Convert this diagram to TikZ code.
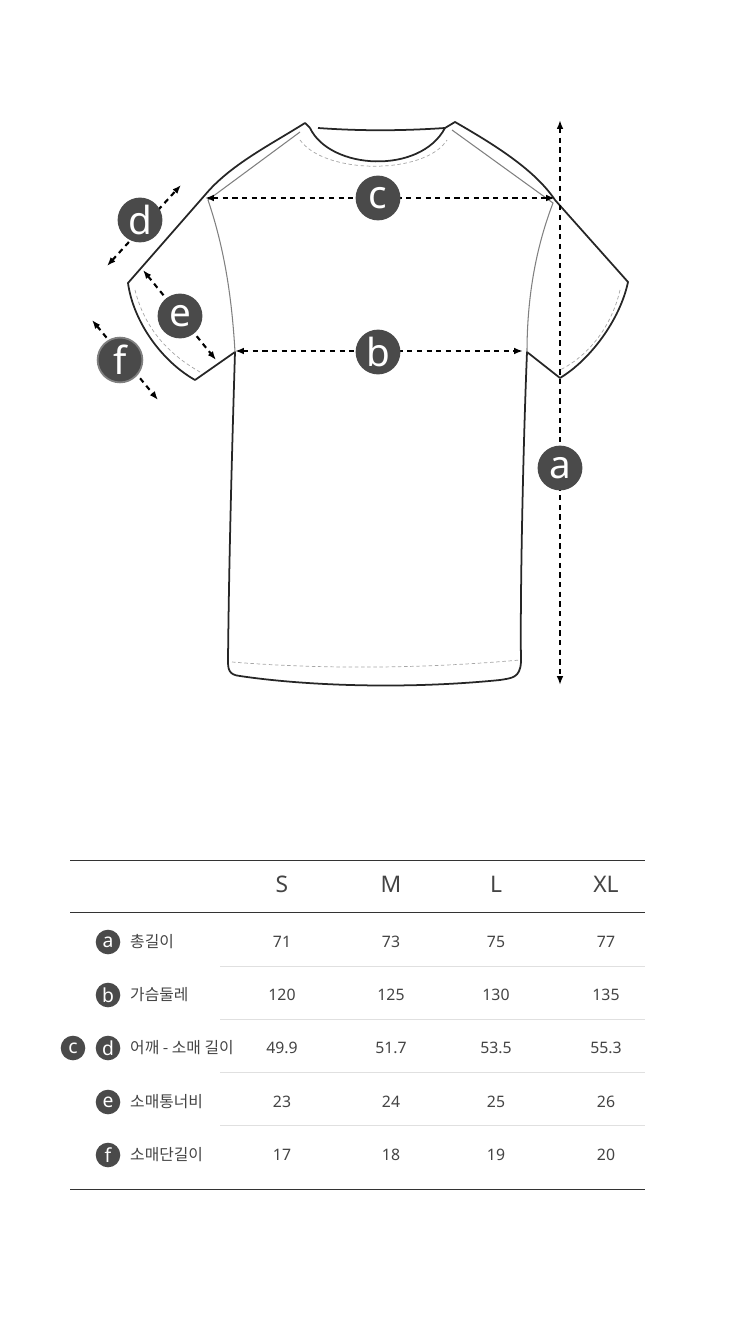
\documentclass[tikz,border=0pt]{standalone}
\usepackage{fontspec}
\setmainfont{Noto Sans}
\newfontfamily\kor{Noto Sans CJK KR}
\usetikzlibrary{arrows.meta,positioning,calc}
\definecolor{badge}{HTML}{4A4A4A}
\definecolor{txt}{HTML}{444444}
\tikzset{dim/.style={very thick,dashed,dash pattern=on 3pt off 2.5pt,{Latex[length=5pt]}-{Latex[length=5pt]}},
  bigtag/.style={circle,fill=badge,text=white,minimum size=25.5pt,inner sep=0pt,font=\fontsize{22}{22}\selectfont},
  tag/.style={circle,fill=badge,text=white,minimum size=14pt,inner sep=0pt,font=\fontsize{11}{11}\selectfont},
  cell/.style={text=txt,font=\fontsize{9}{9}\selectfont},
  head/.style={text=txt,font=\fontsize{13}{13}\selectfont},
  stitch/.style={gray!70,dashed,dash pattern=on 2pt off 1.5pt,line width=.4pt}}
\begin{document}
\begin{tikzpicture}[x=0.02cm,y=-0.02cm]
\useasboundingbox (0,0) rectangle (750,1341);
% shirt
\draw[line width=1pt,black!85,line join=round] (318,128) .. controls (360,131) and (400,131) .. (445,128)
  -- (455,122) .. controls (495,145) and (535,170) .. (555,200) -- (628,282)
  .. controls (620,320) and (590,360) .. (560,378) -- (527,352)
  .. controls (523,450) and (520,600) .. (521,662) .. controls (520,678) and (512,678) .. (500,680)
  .. controls (400,690) and (300,685) .. (240,676) .. controls (228,675) and (228,668) .. (228,660)
  .. controls (229,560) and (232,450) .. (235,352) -- (195,380)
  .. controls (160,360) and (133,320) .. (128,283) -- (205,195)
  .. controls (230,165) and (270,145) .. (305,123) -- (310,128);
\draw[line width=1pt,black!85] (310,128) .. controls (330,170) and (420,175) .. (445,128);
\draw[gray,line width=.6pt] (300,132) -- (208,200) .. controls (225,250) and (232,300) .. (235,352);
\draw[gray,line width=.6pt] (452,130) -- (553,203) .. controls (535,250) and (527,300) .. (527,352);
\draw[stitch] (300,140) .. controls (325,175) and (425,175) .. (447,140);
\draw[stitch] (135,290) .. controls (145,330) and (170,355) .. (200,372);
\draw[stitch] (620,290) .. controls (612,325) and (590,355) .. (560,370);
\draw[stitch] (232,662) .. controls (330,670) and (430,668) .. (520,660);
% dimensions
\coordinate (cL) at (205,198); \coordinate (cR) at (555,198);
\coordinate (bL) at (235,351); \coordinate (bR) at (523,351);
\coordinate (aT) at (560,120); \coordinate (aB) at (560,685);
\coordinate (d1) at (107,266); \coordinate (d2) at (181,185);
\coordinate (e1) at (143,270); \coordinate (e2) at (216,360);
\coordinate (f1) at (92,320); \coordinate (f2) at (158,400);
\draw[dim] (cL) -- (cR); \draw[dim] (bL) -- (bR); \draw[dim] (aT) -- (aB);
\draw[dim] (d1) -- (d2); \draw[dim] (e1) -- (e2); \draw[dim] (f1) -- (f2);
\node[bigtag] (c) at (378,198) {c};
\node[bigtag] (b) at (378,352) {b};
\node[bigtag] (a) at (560,468) {a};
\node[bigtag] (d) at (140,220) {d};
\node[bigtag] (e) at (180,316) {e};
\node[bigtag,draw=gray,line width=1pt] (f) at (120,360) {f};
% table
\draw[black!80] (70,860) -- (645,860) (70,912) -- (645,912) (70,1189) -- (645,1189);
\foreach \y in {966,1019,1072,1125} \draw[black!12] (220,\y) -- (645,\y);
\foreach \s/\x in {S/282,M/391,L/496,XL/606} \node[head] at (\x,884) {\s};
\foreach \t/\lab/\y/\va/\vb/\vc/\vd in {a/총길이/942/71/73/75/77, b/가슴둘레/995/120/125/130/135,
  d/어깨 - 소매 길이/1048/49.9/51.7/53.5/55.3, e/소매통너비/1102/23/24/25/26, f/소매단길이/1155/17/18/19/20}{
  \node[tag] (t\t) at (108,\y) {\t};
  \node[cell,anchor=west] at (124,\y) {\kor\lab};
  \foreach \v/\x in {\va/282,\vb/391,\vc/496,\vd/606} \node[cell] at (\x,\y) {\v};
}
\node[tag] (tc) at (73,1048) {c};
\end{tikzpicture}
\end{document}
